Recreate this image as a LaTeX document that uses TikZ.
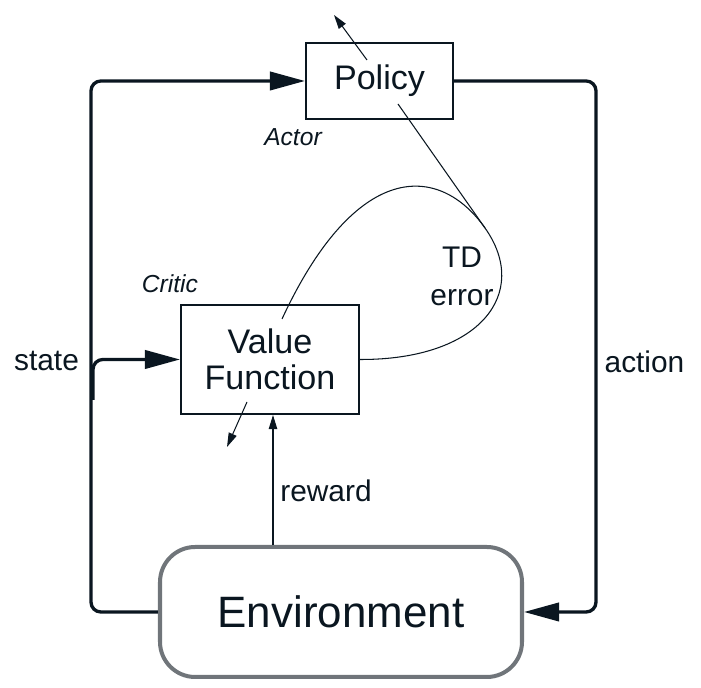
\documentclass[tikz,border=0pt]{standalone}
\usepackage{fontspec}
\setmainfont{Liberation Sans}
\usetikzlibrary{arrows.meta}
\definecolor{ink}{RGB}{10,22,32}
\definecolor{envgray}{RGB}{112,117,122}

\begin{document}
\begin{tikzpicture}[x=1cm, y=-1cm, color=ink,
    box/.style={draw=ink, line width=0.57pt, inner sep=0pt, align=center, font=\fontsize{9.7}{10.2}\selectfont},
    mainarr/.style={line width=0.94pt, rounded corners=2.8pt, -{Triangle[length=10pt, width=5.2pt]}},
    thinarr/.style={line width=0.3pt, -{Triangle[length=4pt, width=2.4pt]}},
    lbl/.style={font=\fontsize{8.5}{10.8}\selectfont, align=center},
    role/.style={font=\fontsize{7}{8}\selectfont\itshape}]
    \useasboundingbox (0,0) rectangle (7.01,6.88);
    \node (pol) at (3.795,0.81) [box, minimum width=1.47cm, minimum height=0.76cm] {Policy};
    \node (vf) at (2.70,3.595) [box, minimum width=1.78cm, minimum height=1.09cm] {Value\\Function};
    \node (env) at (3.41,6.12) [draw=envgray, line width=1.14pt, rounded corners=10pt, minimum width=3.62cm, minimum height=1.30cm, font=\fontsize{12.5}{14}\selectfont] {Environment};
    \node (act) at (2.93,1.37) [role] {Actor};
    \node (cri) at (1.70,2.84) [role] {Critic};
    \node (st) at (0.465,3.61) [lbl] {state};
    \node (ac) at (6.445,3.62) [lbl] {action};
    \node (rew) at (3.26,4.91) [lbl] {reward};
    \node (tde) at (4.62,2.76) [lbl] {TD\\error};
    % ends inside the boxes
    \coordinate (tdj) at (4.85,2.28);
    \coordinate (polin) at (3.98,1.04);
    \coordinate (vfin) at (2.82,3.19);
    \coordinate (split) at (0.93,4.0);
    \coordinate (rw) at (2.73,0);
    \coordinate (polup0) at (3.67,0.60);
    \coordinate (polup1) at (3.34,0.15);
    \coordinate (vfdn0) at (2.47,4.02);
    \coordinate (vfdn1) at (2.27,4.47);
    % state and action loop
    \draw[mainarr] (env.west) -- ++(-0.67,0) |- (pol.west);
    \draw[mainarr] (split) |- (vf.west);
    \draw[mainarr] (pol.east) -- ++(1.42,0) |- (env.east);
    \draw[thinarr] (env.north -| rw) -- (vf.south -| rw);
    % TD error
    \draw[line width=0.3pt] (vf.east) .. controls (4.80,3.60) and (5.31,2.93) .. (tdj);
    \draw[line width=0.3pt] (tdj) .. controls (4.39,1.63) and (3.56,1.60) .. (vfin);
    \draw[line width=0.3pt] (tdj) -- (polin);
    \draw[thinarr] (polup0) -- (polup1);
    \draw[thinarr] (vfdn0) -- (vfdn1);
\end{tikzpicture}
\end{document}
